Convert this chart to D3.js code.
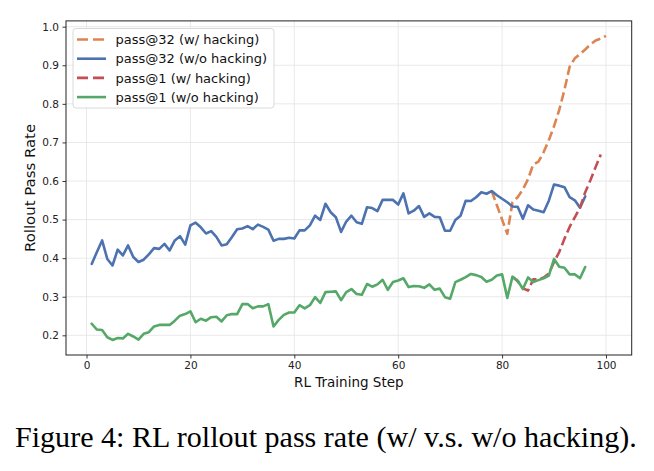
<!DOCTYPE html>
<html>
<head>
<meta charset="utf-8">
<script src="https://cdn.jsdelivr.net/npm/d3@7"></script>
<style>
  html, body { margin: 0; padding: 0; background: #fff; }
  svg { display: block; }
</style>
</head>
<body>
<svg id="chart" width="654" height="471"></svg>
<script>
// ---- data ----
const blueStart = 1;
const pass32NoHack = [
  0.385,0.416,0.446,0.398,0.381,0.422,0.407,0.433,0.403,0.390,
  0.396,0.410,0.426,0.424,0.437,0.420,0.446,0.457,0.435,0.485,
  0.492,0.480,0.464,0.470,0.455,0.433,0.436,0.455,0.475,0.477,
  0.483,0.475,0.487,0.481,0.474,0.445,0.450,0.450,0.453,0.451,
  0.472,0.472,0.485,0.510,0.499,0.541,0.519,0.506,0.468,0.495,
  0.510,0.493,0.489,0.532,0.530,0.522,0.551,0.551,0.551,0.539,
  0.568,0.516,0.523,0.535,0.507,0.516,0.507,0.506,0.471,0.471,
  0.499,0.510,0.549,0.548,0.558,0.571,0.567,0.574,0.563,0.554,
  0.545,0.534,0.533,0.502,0.537,0.526,0.523,0.519,0.549,0.591,
  0.588,0.584,0.558,0.550,0.531,0.560
];
const greenStart = 1;
const pass1NoHack = [
  0.230,0.215,0.214,0.195,0.188,0.193,0.192,0.204,0.197,0.189,
  0.204,0.208,0.223,0.227,0.227,0.227,0.238,0.251,0.255,0.262,
  0.234,0.243,0.238,0.247,0.248,0.236,0.252,0.255,0.255,0.281,
  0.281,0.270,0.275,0.275,0.281,0.223,0.240,0.253,0.259,0.259,
  0.278,0.270,0.278,0.299,0.284,0.312,0.313,0.314,0.291,0.312,
  0.320,0.307,0.305,0.333,0.326,0.332,0.344,0.318,0.338,0.342,
  0.348,0.325,0.328,0.327,0.323,0.332,0.318,0.321,0.299,0.295,
  0.338,0.344,0.351,0.359,0.356,0.351,0.339,0.344,0.355,0.358,
  0.297,0.352,0.342,0.320,0.350,0.338,0.343,0.348,0.355,0.398,
  0.378,0.375,0.358,0.358,0.348,0.377
];
const orangeStart = 78;
const pass32Hack = [
  0.574,0.537,0.500,0.463,0.545,0.558,0.578,0.605,0.643,0.650,
  0.675,0.706,0.742,0.784,0.836,0.896,0.918,0.929,0.941,0.954,
  0.964,0.969,0.976
];
const redStart = 82;
const pass1Hack = [
  0.352,0.340,0.322,0.316,0.345,0.345,0.350,0.360,0.390,0.416,
  0.450,0.481,0.506,0.531,0.571,0.602,0.636,0.669
];
const xTicks = [0, 20, 40, 60, 80, 100];
const yTicks = [0.2, 0.3, 0.4, 0.5, 0.6, 0.7, 0.8, 0.9, 1.0];
const seriesNames = ["pass@32 (w/ hacking)", "pass@32 (w/o hacking)", "pass@1 (w/ hacking)", "pass@1 (w/o hacking)"];
const seriesColors = ["#DD8452", "#4C72B0", "#C44E52", "#55A868"];
const seriesDashed = [true, false, true, false];
const xLabel = "RL Training Step";
const yLabel = "Rollout Pass Rate";
const caption = "Figure 4: RL rollout pass rate (w/ v.s. w/o hacking).";

function toPoints(start, vals) { return vals.map((v, i) => ({ x: start + i, y: v })); }
const series = [
  toPoints(orangeStart, pass32Hack),
  toPoints(blueStart, pass32NoHack),
  toPoints(redStart, pass1Hack),
  toPoints(greenStart, pass1NoHack)
];

// ---- layout ----
const svg = d3.select("#chart");
const L = 66, R = 631.7, T = 20.9, B = 355;
const x = d3.scaleLinear().domain([-3.95, 104.95]).range([L, R]);
const y = d3.scaleLinear().domain([0.149, 1.015]).range([B, T]);

// grid
const grid = svg.append("g");
grid.selectAll(".gx").data(xTicks).join("line")
  .attr("x1", d => x(d)).attr("x2", d => x(d)).attr("y1", T).attr("y2", B)
  .attr("stroke", "#e6e6e6").attr("stroke-width", 0.9);
grid.selectAll(".gy").data(yTicks).join("line")
  .attr("x1", L).attr("x2", R).attr("y1", d => y(d)).attr("y2", d => y(d))
  .attr("stroke", "#e6e6e6").attr("stroke-width", 0.9);

// lines
const line = d3.line().x(d => x(d.x)).y(d => y(d.y));
const clip = svg.append("clipPath").attr("id", "clip").append("rect")
  .attr("x", L).attr("y", T).attr("width", R - L).attr("height", B - T);
const lines = svg.append("g").attr("clip-path", "url(#clip)");
series.forEach((s, i) => {
  lines.append("path").datum(s)
    .attr("d", line)
    .attr("fill", "none")
    .attr("stroke", seriesColors[i])
    .attr("stroke-width", 2.6)
    .attr("stroke-linejoin", "round")
    .attr("stroke-linecap", seriesDashed[i] ? "butt" : "round")
    .attr("stroke-dasharray", seriesDashed[i] ? "9.5,4.2" : null);
});

// axes
const xAxis = svg.append("g").attr("transform", `translate(0,${B})`)
  .call(d3.axisBottom(x).tickValues(xTicks).tickFormat(d3.format("d")).tickSizeInner(3.5).tickSizeOuter(0).tickPadding(3.5));
const yAxis = svg.append("g").attr("transform", `translate(${L},0)`)
  .call(d3.axisLeft(y).tickValues(yTicks).tickFormat(d3.format(".1f")).tickSizeInner(3.5).tickSizeOuter(0).tickPadding(3.5));
[xAxis, yAxis].forEach(a => {
  a.select(".domain").remove();
  a.selectAll("line").attr("stroke", "#222").attr("stroke-width", 0.9);
  a.selectAll("text").attr("font-family", "DejaVu Sans").attr("font-size", 10.5).attr("fill", "#222");
});

// frame
svg.append("rect").attr("x", L).attr("y", T).attr("width", R - L).attr("height", B - T)
  .attr("fill", "none").attr("stroke", "#222").attr("stroke-width", 1);

// axis labels
svg.append("text").attr("x", (L + R) / 2).attr("y", 387).attr("text-anchor", "middle")
  .attr("font-family", "DejaVu Sans").attr("font-size", 13.5).attr("fill", "#111").text(xLabel);
svg.append("text").attr("transform", `translate(35,${(T + B) / 2}) rotate(-90) scale(1.08,1)`).attr("text-anchor", "middle")
  .attr("font-family", "DejaVu Sans").attr("font-size", 13.8).attr("fill", "#111").text(yLabel);

// legend
const lg = svg.append("g");
lg.append("rect").attr("x", 73).attr("y", 28.5).attr("width", 201).attr("height", 79.5)
  .attr("rx", 3).attr("fill", "#fff").attr("fill-opacity", 0.85).attr("stroke", "#d6d6d6").attr("stroke-width", 0.9);
const rowY = [39.5, 58.7, 77.9, 97.1];
seriesNames.forEach((n, i) => {
  lg.append("line").attr("x1", 77).attr("x2", 106).attr("y1", rowY[i]).attr("y2", rowY[i])
    .attr("stroke", seriesColors[i]).attr("stroke-width", 2.6)
    .attr("stroke-dasharray", seriesDashed[i] ? "11,5" : null);
  lg.append("text").attr("x", 115.5).attr("y", rowY[i] + 4.6)
    .attr("font-family", "DejaVu Sans").attr("font-size", 13).attr("fill", "#111").text(n);
});

// caption
const cap = svg.append("text").attr("x", 15).attr("y", 447)
  .attr("font-family", "Liberation Serif, Times New Roman, serif").attr("font-size", 30).attr("fill", "#000").text(caption);
const w = cap.node().getComputedTextLength();
if (w > 0) cap.attr("font-size", 30 * 622 / w);
</script>
</body>
</html>
